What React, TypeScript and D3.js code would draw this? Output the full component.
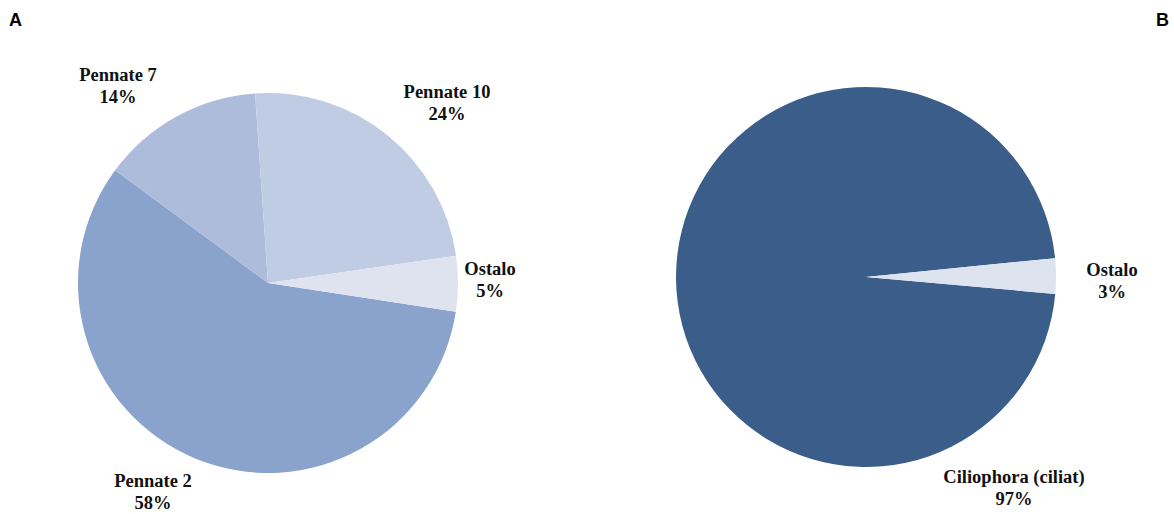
import React from "react";
import * as d3 from "d3";

// Panel A data
const catsA = ["Pennate 2", "Pennate 7", "Pennate 10", "Ostalo"];
const valsA = [57.7, 13.8, 23.8, 4.7];
const pctA = ["58%", "14%", "24%", "5%"];
const colorsA = ["#8aa3cc", "#adbcda", "#bfcce3", "#dee3ef"];

// Panel B data
const catsB = ["Ciliophora (ciliat)", "Ostalo"];
const valsB = [97, 3];
const pctB = ["97%", "3%"];
const colorsB = ["#3a5d89", "#dde3ef"];

const W = 1174;
const H = 514;

type PieProps = {
  cx: number;
  cy: number;
  r: number;
  cats: string[];
  vals: number[];
  pcts: string[];
  colors: string[];
  startDeg: number;
  labelPos: [number, number][];
};

function Pie({ cx, cy, r, cats, vals, pcts, colors, startDeg, labelPos }: PieProps) {
  const start = (startDeg * Math.PI) / 180;
  const pie = d3
    .pie<number>()
    .sort(null)
    .value((d) => d)
    .startAngle(start)
    .endAngle(start + 2 * Math.PI);
  const arcs = pie(vals);
  const arc = d3.arc<d3.PieArcDatum<number>>().innerRadius(0).outerRadius(r);
  return (
    <g>
      <g transform={`translate(${cx},${cy})`}>
        {arcs.map((a, i) => (
          <path key={i} d={arc(a) || ""} fill={colors[i]} stroke="none" />
        ))}
      </g>
      {arcs.map((a, i) => (
        <text
          key={"l" + i}
          x={cx + labelPos[i][0]}
          y={cy + labelPos[i][1]}
          textAnchor="middle"
          style={{ fontFamily: "Liberation Serif, serif", fontWeight: 700, fontSize: "18.5px" }}
          fill="#111"
        >
          <tspan x={cx + labelPos[i][0]} dy={0}>{cats[i]}</tspan>
          <tspan x={cx + labelPos[i][0]} dy={22}>{pcts[i]}</tspan>
        </text>
      ))}
    </g>
  );
}

export default function App() {
  return (
    <svg
      width={W}
      height={H}
      style={{ position: "absolute", left: 0, top: 0, background: "#fff" }}
    >
      <text x={9} y={26} style={{ fontFamily: "Liberation Sans, sans-serif", fontWeight: 700, fontSize: "18px" }} fill="#000">
        A
      </text>
      <text x={1156} y={26} style={{ fontFamily: "Liberation Sans, sans-serif", fontWeight: 700, fontSize: "18px" }} fill="#000">
        B
      </text>
      <Pie
        cx={268}
        cy={283}
        r={190}
        cats={catsA}
        vals={valsA}
        pcts={pctA}
        colors={colorsA}
        startDeg={98.7}
        labelPos={[
          [-115, 204],
          [-150, -202],
          [179, -185],
          [222, -8],
        ]}
      />
      <Pie
        cx={866}
        cy={277}
        r={190}
        cats={catsB}
        vals={valsB}
        pcts={pctB}
        colors={colorsB}
        startDeg={95.1}
        labelPos={[
          [148, 206],
          [246, -1],
        ]}
      />
    </svg>
  );
}
